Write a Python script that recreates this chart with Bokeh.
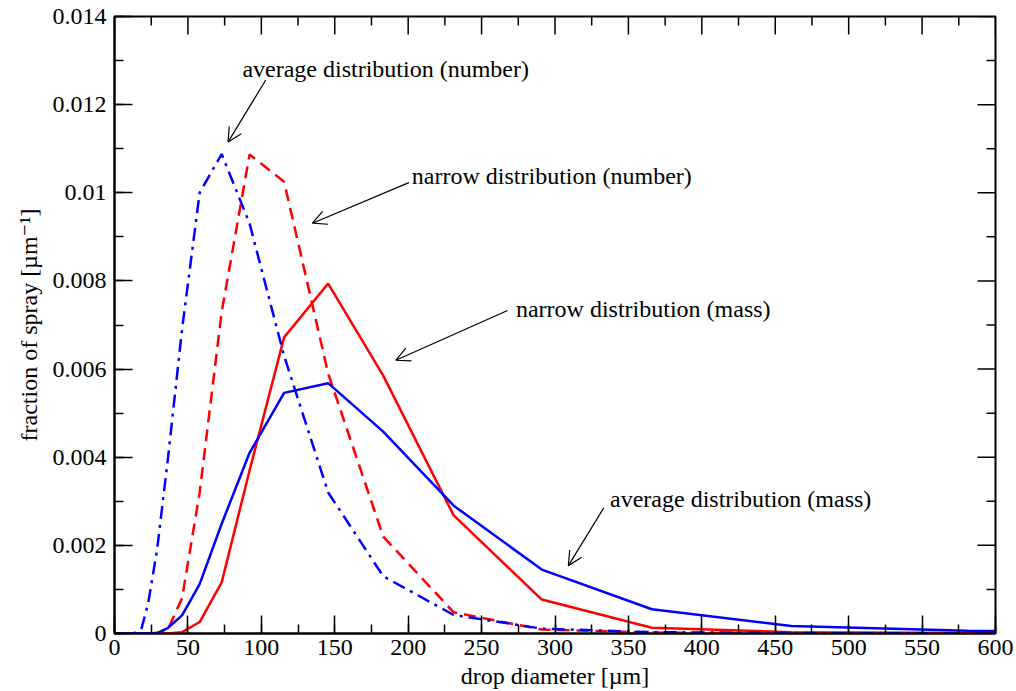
from bokeh.plotting import figure
from bokeh.models import SingleIntervalTicker, CustomJSTickFormatter, Arrow, OpenHead, ColumnDataSource
from bokeh.core.properties import value
from bokeh.embed import file_html
from bokeh.resources import INLINE

# drop diameter [um]
diameter = [0, 11.5, 14.5, 18.3, 23, 29, 36.5, 46, 58, 73, 92, 115.5, 145.5,
            183, 231, 291, 366, 461, 581, 732]

avg_number = [0, 0, 0.00002, 0.0001, 0.0007, 0.0019, 0.0040, 0.0069, 0.0100,
              0.01088, 0.0093, 0.0063, 0.0032, 0.0013, 0.00042, 0.00011,
              0.00003, 0.00001, 0, 0]
narrow_number = [0, 0, 0, 0, 0, 0.00001, 0.0001, 0.0008, 0.0032, 0.0073,
                 0.01087, 0.01025, 0.0059, 0.0022, 0.00048, 0.00009,
                 0.00002, 0, 0, 0]
narrow_mass = [0, 0, 0, 0, 0, 0, 0, 0.00003, 0.00026, 0.00116, 0.0037,
               0.00672, 0.00794, 0.00585, 0.00268, 0.00077, 0.00013,
               0.00003, 0.00001, 0]
avg_mass = [0, 0, 0, 0, 0, 0.00001, 0.00013, 0.00041, 0.00112, 0.00249,
            0.0041, 0.00546, 0.00568, 0.00458, 0.0029, 0.00145, 0.00055,
            0.00017, 0.00006, 0.00002]

# tick positions for the mirrored top / right axes
x_major_ticks = [0, 50, 100, 150, 200, 250, 300, 350, 400, 450, 500, 550, 600]
x_minor_ticks = [25, 75, 125, 175, 225, 275, 325, 375, 425, 475, 525, 575]
y_major_ticks = [0, 0.002, 0.004, 0.006, 0.008, 0.01, 0.012, 0.014]
y_minor_ticks = [0.001, 0.003, 0.005, 0.007, 0.009, 0.011, 0.013]

# annotations
ann_text = ["average distribution (number)", "narrow distribution (number)",
            "narrow distribution (mass)", "average distribution (mass)"]
ann_x = [87.1, 202.5, 273.4, 337.5]
ann_y = [0.01280, 0.01037, 0.00737, 0.00306]
arrow_x0 = [103.0, 200.5, 267.7, 333.2]
arrow_y0 = [0.01256, 0.01023, 0.00733, 0.00285]
arrow_x1 = [77.3, 134.8, 191.6, 309.1]
arrow_y1 = [0.01115, 0.00931, 0.00620, 0.00154]

FONT = "Times New Roman, Liberation Serif, Tinos, Nimbus Roman, DejaVu Serif, Noto Serif, serif"
X_MAX = 600
Y_MAX = 0.014

p = figure(frame_width=881, frame_height=617, x_range=(0, X_MAX), y_range=(0, Y_MAX),
           output_backend="svg", toolbar_location=None,
           min_border_left=114, min_border_right=21, min_border_top=16,
           min_border_bottom=58, background_fill_color="white",
           border_fill_color="white")
p.xgrid.visible = False
p.ygrid.visible = False
p.outline_line_color = "black"
p.outline_line_width = 2

src = ColumnDataSource(dict(x=diameter, an=avg_number, nn=narrow_number,
                            nm=narrow_mass, am=avg_mass))
p.line("x", "nn", source=src, line_color="#ff0000", line_width=2.5, line_dash="12 7")
p.line("x", "nm", source=src, line_color="#ff0000", line_width=2.5)
p.line("x", "am", source=src, line_color="#0000ff", line_width=2.5)
p.line("x", "an", source=src, line_color="#0000ff", line_width=2.5, line_dash="13 6 3 6")

# mirrored inward ticks on top and right
p.ray(x=x_major_ticks, y=[Y_MAX] * len(x_major_ticks), length=18, length_units="screen",
      angle=-90, angle_units="deg", line_color="black", line_width=1.5)
p.ray(x=x_minor_ticks, y=[Y_MAX] * len(x_minor_ticks), length=9, length_units="screen",
      angle=-90, angle_units="deg", line_color="black", line_width=1.5)
p.ray(x=[X_MAX] * len(y_major_ticks), y=y_major_ticks, length=18, length_units="screen",
      angle=180, angle_units="deg", line_color="black", line_width=1.5)
p.ray(x=[X_MAX] * len(y_minor_ticks), y=y_minor_ticks, length=9, length_units="screen",
      angle=180, angle_units="deg", line_color="black", line_width=1.5)

p.text(x=ann_x, y=ann_y, text=ann_text, text_font=value(FONT), text_font_size="24px",
       text_baseline="alphabetic", text_align="left", text_color="black")
for xs, ys, xe, ye in zip(arrow_x0, arrow_y0, arrow_x1, arrow_y1):
    p.add_layout(Arrow(end=OpenHead(size=14, line_width=1.2, line_color="black"),
                       x_start=xs, y_start=ys, x_end=xe, y_end=ye,
                       line_width=1.2, line_color="black"))

p.xaxis.ticker = SingleIntervalTicker(interval=50, num_minor_ticks=2)
p.yaxis.ticker = SingleIntervalTicker(interval=0.002, num_minor_ticks=2)
p.yaxis.formatter = CustomJSTickFormatter(code="return String(parseFloat(tick.toFixed(4)));")
p.xaxis.axis_label = "drop diameter [µm]"
p.yaxis.axis_label = "fraction of spray [µm⁻¹]"
for ax in p.xaxis + p.yaxis:
    ax.major_tick_in = 18
    ax.major_tick_out = 0
    ax.minor_tick_in = 9
    ax.minor_tick_out = 0
    ax.major_tick_line_width = 1.5
    ax.minor_tick_line_width = 1.5
    ax.major_tick_line_color = "black"
    ax.minor_tick_line_color = "black"
    ax.axis_line_width = 2
    ax.axis_line_color = "black"
    ax.major_label_text_font = FONT
    ax.major_label_text_font_size = "24px"
    ax.major_label_text_color = "black"
    ax.axis_label_text_font = FONT
    ax.axis_label_text_font_size = "24px"
    ax.axis_label_text_font_style = "normal"
    ax.axis_label_text_color = "black"
p.xaxis.major_label_standoff = 6
p.xaxis.axis_label_standoff = 5
p.yaxis.major_label_standoff = 8
p.yaxis.axis_label_standoff = 8

open("out.html", "w").write(file_html(p, INLINE))
